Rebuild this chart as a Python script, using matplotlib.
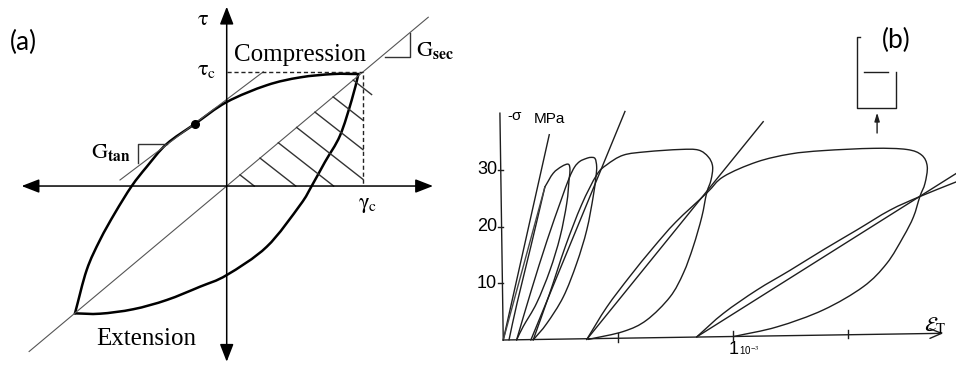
import numpy as np
import matplotlib.pyplot as plt
from matplotlib.path import Path
from matplotlib.patches import PathPatch

plt.rcParams['mathtext.fontset'] = 'stix'
SERIF = 'Liberation Serif'
SANS = 'Liberation Sans'

# ---- (a) idealised loop, strain scaled by gamma_c, stress by tau_c ----
backbone_gamma = [-1.152, -1.063, -0.962, -0.848, -0.721, -0.607, -0.456, -0.241, 0.0, 0.304, 0.557, 0.81, 1.0]
backbone_tau = [-1.137, -0.75, -0.482, -0.24, 0.0, 0.172, 0.375, 0.555, 0.75, 0.90, 0.97, 1.0, 1.0]
unload_gamma = [1.0, 0.949, 0.86, 0.746, 0.645, 0.557, 0.304, 0.0, -0.203, -0.456, -0.709, -0.962, -1.152]
unload_tau = [1.0, 0.768, 0.45, 0.215, 0.0, -0.17, -0.542, -0.795, -0.899, -1.018, -1.1, -1.14, -1.137]
dot_gamma, dot_tau = -0.241, 0.555
secant_slope = 0.985
tangent_gamma = [-0.81, 0.278]
tangent_tau = [0.054, 1.02]
gamma_c, tau_c = 1.035, 1.015
hatch_start = [0.101, 0.253, 0.392, 0.531, 0.67, 0.808, 0.96]

# ---- (b) cyclic compression test: strain in 1e-3, stress in MPa ----
initial_x = [0.0, 0.2]
initial_y = [0.0, 36.2]
cyc1_load_x = [0.0, 0.181]
cyc1_load_y = [0.0, 27.0]
cyc1_unload_x = [0.181, 0.12, 0.06, 0.025]
cyc1_unload_y = [27.0, 16.5, 6.5, 0.0]
cyc2_x = [0.181, 0.217, 0.254, 0.283, 0.29, 0.286, 0.276, 0.247, 0.203, 0.145, 0.087, 0.058]
cyc2_y = [27.0, 29.4, 30.6, 31.0, 30.0, 28.2, 24.1, 18.2, 12.3, 6.5, 2.4, 0.0]
cyc3_x = [0.058, 0.12, 0.19, 0.25, 0.286, 0.31, 0.333, 0.36, 0.38, 0.399, 0.406, 0.403,
          0.391, 0.363, 0.319, 0.261, 0.189, 0.13]
cyc3_y = [0.0, 8.5, 17.5, 24.5, 28.5, 30.5, 31.5, 32.0, 32.2, 32.0, 30.6, 28.8,
          25.3, 19.4, 13.5, 7.6, 2.9, 0.0]
chord3_x = [0.12, 0.529]
chord3_y = [0.0, 40.3]
cyc4_x = [0.13, 0.2, 0.27, 0.34, 0.406, 0.45, 0.522, 0.623, 0.768, 0.848, 0.891, 0.91,
          0.903, 0.884, 0.863, 0.826, 0.783, 0.725, 0.623, 0.522, 0.37]
cyc4_y = [0.0, 8.0, 16.5, 23.8, 29.1, 30.9, 32.6, 33.2, 33.6, 33.5, 32.3, 30.6,
          28.2, 25.9, 21.7, 16.5, 11.8, 7.6, 3.5, 1.5, 0.1]
chord4_x = [0.363, 1.13]
chord4_y = [0.1, 38.5]
cyc5_x = [0.363, 0.45, 0.55, 0.65, 0.75, 0.884, 0.957, 1.102, 1.247, 1.391, 1.609, 1.754,
          1.819, 1.843, 1.833, 1.811, 1.783, 1.739, 1.667, 1.565, 1.391, 1.189, 1.0]
cyc5_y = [0.1, 5.8, 11.2, 16.2, 20.8, 25.9, 28.8, 31.4, 32.8, 33.4, 33.8, 33.6,
          32.6, 30.6, 27.6, 25.3, 21.7, 18.2, 13.5, 9.4, 5.3, 2.3, 0.6]
cyc6_x = [0.841, 0.957, 1.102, 1.247, 1.391, 1.537, 1.681, 1.811, 1.97]
cyc6_y = [0.55, 4.7, 8.8, 12.3, 15.9, 19.4, 22.9, 25.3, 27.9]
chord6_x = [0.841, 1.97]
chord6_y = [0.55, 29.4]
stress_ticks = [10, 20, 30]
strain_ticks = [0.5, 1.0, 1.5]


def smooth(ax, xs, ys, **kw):
    """Catmull-Rom curve through the points, drawn as cubic Bezier segments."""
    pts = np.column_stack([xs, ys]).astype(float)
    ext = np.vstack([2 * pts[0] - pts[1], pts, 2 * pts[-1] - pts[-2]])
    verts, codes = [pts[0]], [Path.MOVETO]
    for i in range(1, len(ext) - 2):
        p0, p1, p2, p3 = ext[i - 1], ext[i], ext[i + 1], ext[i + 2]
        verts += [p1 + (p2 - p0) / 6, p2 - (p3 - p1) / 6, p2]
        codes += [Path.CURVE4] * 3
    ax.add_patch(PathPatch(Path(verts, codes), fill=False, capstyle='round', **kw))


fig = plt.figure(figsize=(9.56, 3.65), dpi=100, facecolor='white')

# ================= panel (a) =================
ax = fig.add_axes([0, 0, 460 / 956, 1])
ax.set_xlim(-1.721, 1.771)
ax.set_ylim(-1.598, 1.661)
ax.axis('off')

arrow_kw = dict(arrowstyle='<|-|>,head_length=0.9,head_width=0.35', color='black',
                lw=1.1, shrinkA=0, shrinkB=0, mutation_scale=12)
ax.annotate('', xy=(1.566, 0), xytext=(-1.557, 0), arrowprops=arrow_kw)
ax.annotate('', xy=(0, 1.601), xytext=(0, -1.569), arrowprops=arrow_kw)

sec = np.array([-1.5, 1.53])
ax.plot(sec, secant_slope * sec, color='#555555', lw=0.8)
ax.plot(tangent_gamma, tangent_tau, color='#555555', lw=0.8)

# G_tan and G_sec slope marks
ax.plot([-0.456, -0.671, -0.671], [0.375, 0.375, 0.203], color='#333333', lw=1.0)
ax.plot([1.202, 1.392, 1.392], [1.149, 1.149, 1.363], color='#333333', lw=1.0)

# dashed limits at gamma_c / tau_c
ax.plot([0, gamma_c, gamma_c], [tau_c, tau_c, 0], color='#222222', lw=1.0, ls=(0, (3, 2)))

# hatching under the secant
for k, s in enumerate(hatch_start):
    x_lim = 1.1 if k == len(hatch_start) - 1 else gamma_c
    x_end = min(s + s * secant_slope / 0.92, x_lim)
    ax.plot([s, x_end], [s * secant_slope, s * secant_slope - 0.92 * (x_end - s)],
            color='#333333', lw=1.0)

smooth(ax, backbone_gamma, backbone_tau, color='black', lw=1.8)
smooth(ax, unload_gamma, unload_tau, color='black', lw=1.8)
ax.plot(dot_gamma, dot_tau, 'o', ms=5.5, color='black')

ax.text(0.557, 1.17, 'Compression', family=SERIF, fontsize=18, ha='center', va='center')
ax.text(-0.609, -1.37, 'Extension', family=SERIF, fontsize=18, ha='center', va='center')
ax.text(-0.18, 1.49, r'$\mathrm{\tau}$', fontsize=16, ha='center', va='center')
ax.text(-0.15, 1.04, r'$\mathrm{\tau_c}$', fontsize=16, ha='center', va='center')
ax.text(1.07, -0.17, r'$\mathrm{\gamma_c}$', fontsize=16, ha='center', va='center')
ax.text(-0.878, 0.30, r'$\mathrm{G}_{\mathbf{tan}}$', fontsize=16, ha='center', va='center')
ax.text(1.582, 1.214, r'$\mathrm{G}_{\mathbf{sec}}$', fontsize=16, ha='center', va='center')
ax.text(-1.543, 1.281, '(a)', family='Lato', fontsize=19, ha='center', va='center')

# ================= panel (b) =================
bx = fig.add_axes([460 / 956, 0, 496 / 956, 1])
bx.set_xlim(-0.188, 1.968)
bx.set_ylim(-4.41, 59.96)
bx.axis('off')

ink = dict(color='#1e1e1e', lw=1.0)
axis_rise = 1.18 / 1.913
bx.annotate('', xy=(1.913, 1.18), xytext=(0, 0),
            arrowprops=dict(arrowstyle='->,head_length=0.6,head_width=0.25', color='#1e1e1e',
                            lw=1.0, shrinkA=0, shrinkB=0, mutation_scale=14))
bx.plot([0, -0.0145], [0, 40.0], **ink)
for v in stress_ticks:
    bx.plot([-0.022, 0], [v, v], **ink)
    bx.text(-0.027, v, str(v), family=SANS, fontsize=13, ha='right', va='center')
for v in strain_ticks:
    bx.plot([v, v], [v * axis_rise - 0.6, v * axis_rise + 0.9], **ink)

bx.plot(initial_x, initial_y, **ink)
bx.plot(cyc1_load_x, cyc1_load_y, color='#444444', lw=1.0)
smooth(bx, cyc1_unload_x, cyc1_unload_y, **ink)
for xs, ys in [(cyc2_x, cyc2_y), (cyc3_x, cyc3_y), (cyc4_x, cyc4_y),
               (cyc5_x, cyc5_y), (cyc6_x, cyc6_y)]:
    smooth(bx, xs, ys, **ink)
for xs, ys in [(chord3_x, chord3_y), (chord4_x, chord4_y), (chord6_x, chord6_y)]:
    bx.plot(xs, ys, **ink)

bx.text(0.02, 39.5, '-σ', family=SANS, fontsize=11, ha='left', va='center')
bx.text(0.133, 39.0, 'MPa', family=SANS, fontsize=11, ha='left', va='center')
bx.text(1.0, -1.7, '1', family=SANS, fontsize=13, ha='center', va='center')
bx.text(1.025, -1.8, r'10$^{-3}$', family=SANS, fontsize=7, ha='left', va='center')
bx.text(1.877, 2.6, r'$\mathcal{E}_\mathrm{T}$', fontsize=15, ha='center', va='center')

# loading sketch: specimen in its frame, with the load arrow below
bx.plot([1.552, 1.537, 1.537, 1.707, 1.707], [53.5, 53.5, 40.9, 40.9, 47.3], **ink)
bx.plot([1.568, 1.674], [47.3, 47.3], **ink)
bx.annotate('', xy=(1.625, 40.1), xytext=(1.625, 36.5),
            arrowprops=dict(arrowstyle='-|>,head_length=0.5,head_width=0.15', color='#1e1e1e',
                            lw=1.0, shrinkA=0, shrinkB=0, mutation_scale=10))
bx.text(1.71, 52.8, '(b)', family='Lato', fontsize=19, ha='center', va='center')

fig.savefig('out.png', dpi=100, facecolor='white')
